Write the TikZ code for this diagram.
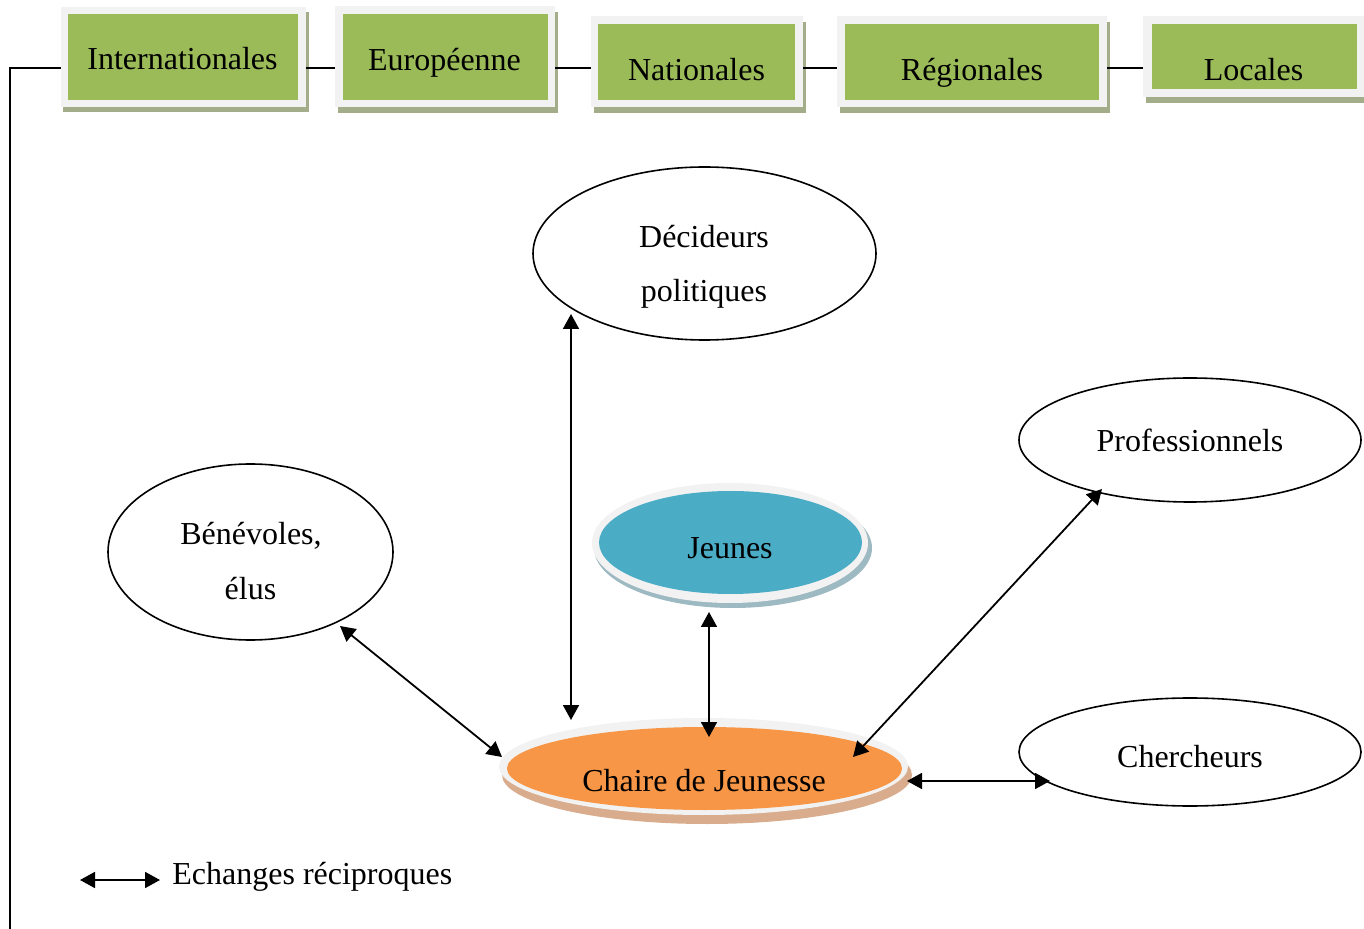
\documentclass[tikz,border=0pt]{standalone}
\usepackage{fontspec}
\setmainfont{Liberation Serif}
\usetikzlibrary{arrows.meta,shapes.geometric,calc,fit}
\definecolor{boxgreen}{HTML}{9BBB59}
\definecolor{framegray}{HTML}{F2F2F2}
\definecolor{shgreen}{HTML}{A3AD8A}
\definecolor{jblue}{HTML}{4BACC6}
\definecolor{shblue}{HTML}{9DB9C2}
\definecolor{corange}{HTML}{F79646}
\definecolor{shorange}{HTML}{D8AC8C}
\tikzset{
  frame/.style={fill=framegray, draw=none, inner sep=0pt, outer sep=0pt},
  gbox/.style={fill=boxgreen, draw=none, inner sep=0pt, outer sep=0pt},
  shbox/.style={fill=shgreen, draw=none, inner sep=0pt, outer sep=0pt},
  lbl/.style={anchor=base, inner sep=0pt, outer sep=0pt},
  bubble/.style={ellipse, draw=black, line width=0.8pt, fill=white, inner sep=0pt, outer sep=0pt},
  plate/.style={ellipse, draw=none, inner sep=0pt, outer sep=0pt},
  link/.style={line width=0.9pt},
  arr/.style={line width=0.9pt, >={Triangle[length=7.5pt,width=8pt]}, <->}
}
\begin{document}
\begin{tikzpicture}[x=0.5pt,y=-0.5pt, font=\fontsize{16}{19}\selectfont]
\useasboundingbox (0,0) rectangle (1364,929);

% ---- top boxes ----
\node[shbox, fit={(63,12) (309,112)}] (intlS) {};
\node[frame, fit={(61,7) (306,107)}] (intlF) {};
\node[gbox, fit={(68,14) (298,100)}] (intl) {};
\node[lbl] (intlT) at (182.5,70) {Internationales};

\node[shbox, fit={(338,12) (558,113)}] (euroS) {};
\node[frame, fit={(335,6) (555,107)}] (euroF) {};
\node[gbox, fit={(343,14) (548,100)}] (euro) {};
\node[lbl] (euroT) at (444.5,71) {Européenne};

\node[shbox, fit={(594,22) (806,113)}] (natS) {};
\node[frame, fit={(591,16) (803,107)}] (natF) {};
\node[gbox, fit={(598,24) (795,100)}] (nat) {};
\node[lbl] (natT) at (696.5,81) {Nationales};

\node[shbox, fit={(840,22) (1110,113)}] (regS) {};
\node[frame, fit={(837,16) (1107,107)}] (regF) {};
\node[gbox, fit={(845,24) (1099,100)}] (reg) {};
\node[lbl] (regT) at (972,81) {Régionales};

\node[shbox, fit={(1146,22) (1364,103)}] (locS) {};
\node[frame, fit={(1143,16) (1364,97)}] (locF) {};
\node[gbox, fit={(1152,24) (1357,89)}] (loc) {};
\node[lbl] (locT) at (1253.5,81) {Locales};

% ---- connectors between boxes ----
\coordinate (corner) at (10,68);
\coordinate (bottom) at (10,929);
\draw[link] (bottom) -- (corner) -- (intlF.west |- corner);
\draw[link] (intlF.east |- corner) -- (euroF.west |- corner);
\draw[link] (euroF.east |- corner) -- (natF.west |- corner);
\draw[link] (natF.east |- corner) -- (regF.west |- corner);
\draw[link] (regF.east |- corner) -- (locF.west |- corner);

% ---- ellipses ----
\node[bubble, minimum width=171.5pt, minimum height=86.5pt] (dec) at (704.5,253.5) {};
\node[lbl] (decT1) at (704,248) {Décideurs};
\node[lbl] (decT2) at (704,302) {politiques};

\node[bubble, minimum width=171pt, minimum height=62pt] (prof) at (1190,440) {};
\node[lbl] (profT) at (1190,452) {Professionnels};

\node[bubble, minimum width=142.5pt, minimum height=88pt] (ben) at (250.5,552) {};
\node[lbl] (benT1) at (251,545) {Bénévoles,};
\node[lbl] (benT2) at (250.5,600) {élus};

\node[bubble, minimum width=171pt, minimum height=54pt] (cher) at (1190,752) {};
\node[lbl] (cherT) at (1190,767) {Chercheurs};

\node[plate, fill=shblue, minimum width=139pt, minimum height=60pt] (jeuS) at (733,548) {};
\node[plate, fill=framegray, minimum width=138pt, minimum height=60pt] (jeuF) at (730,543) {};
\node[plate, fill=jblue, minimum width=131.5pt, minimum height=51.5pt] (jeu) at (730.5,542.5) {};
\node[lbl] (jeuT) at (730,559) {Jeunes};

\node[plate, fill=shorange, minimum width=205pt, minimum height=49pt] (chS) at (707,775) {};
\node[plate, fill=framegray, minimum width=204.5pt, minimum height=48.5pt] (chF) at (703.5,766.5) {};
\node[plate, fill=corange, minimum width=197.5pt, minimum height=41.5pt] (ch) at (704.5,768.5) {};
\node[lbl] (chT) at (704,791) {Chaire de Jeunesse};

% ---- exchanges ----
\draw[arr] ($(dec.center)+(-133.5,60.5)$) -- ($(ch.center)+(-133.5,-48.5)$);
\draw[arr] ($(jeu.center)+(-21.5,69.5)$) -- ($(ch.center)+(4.5,-31.5)$);
\draw[arr] ($(ben.center)+(89.5,74)$) -- ($(ch.center)+(-202.5,-11.5)$);
\draw[arr] ($(prof.center)+(-88,49)$) -- ($(ch.center)+(148.5,-11.5)$);
\draw[arr] ($(ch.center)+(202.5,12.5)$) -- ($(cher.center)+(-140,29)$);

% ---- legend ----
\coordinate (l1) at (80,880);
\coordinate (l2) at (160,880);
\draw[arr] (l1) -- (l2);
\node[anchor=base west, inner sep=0pt] (legT) at (172,884) {Echanges réciproques};
\end{tikzpicture}
\end{document}
